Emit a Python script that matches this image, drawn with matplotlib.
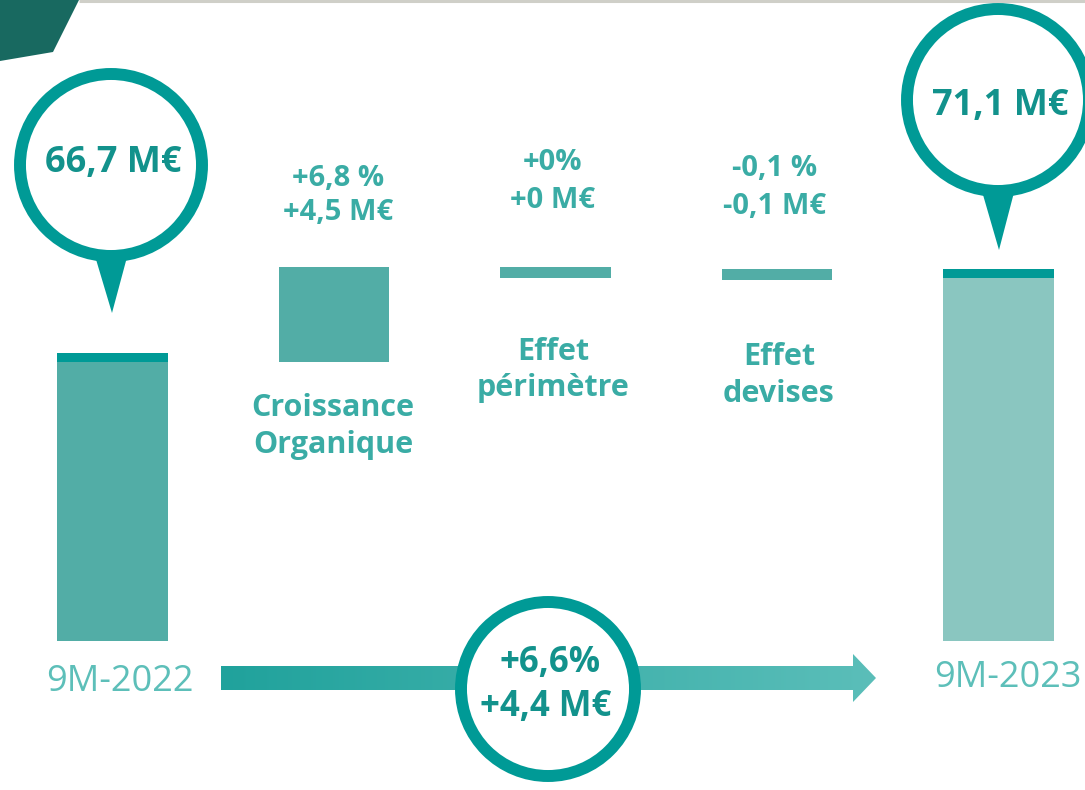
import numpy as np
import matplotlib.pyplot as plt
from matplotlib.patches import Circle, Polygon
from matplotlib.colors import LinearSegmentedColormap

# Data
periods = ["9M-2022", "9M-2023"]
start_value = 66.7
end_value = 71.1
effect_names = ["Croissance\nOrganique", "Effet\npérimètre", "Effet\ndevises"]
effect_values = [4.5, 0.0, -0.1]
effect_pct = ["+6,8 %", "+0%", "-0,1 %"]
effect_meur = ["+4,5 M€", "+0 M€", "-0,1 M€"]
total_pct = "+6,6%"
total_meur = "+4,4 M€"

plt.rcParams['font.family'] = ['Open Sans', 'DejaVu Sans']

bar_col = "#52ADA6"
end_col = "#8AC6C0"
ring_col = "#009A96"
txt_dark = "#12928C"
txt_mid = "#3AACA5"
txt_light = "#5DBFB9"

fig = plt.figure(figsize=(10.85, 7.9), dpi=100)

# data axes (truncated value axis)
ax = fig.add_axes([0, 0, 1, 1])
ax.set_xlim(-0.508, 4.39)
ax.set_ylim(43.82, 85.18)
ax.axis('off')

floor = 51.6
cap = 0.47
min_h = 0.6
w = 0.5

def fmt(v):
    return f"{v:.1f}".replace('.', ',') + " M€"

# start bar
ax.bar(0, start_value - floor, bottom=floor, width=w, color=bar_col)
ax.bar(0, cap, bottom=start_value - cap, width=w, color=ring_col)

# effect bars (waterfall)
running = start_value
for i, d in enumerate(effect_values):
    new = running + d
    lo, hi = min(running, new), max(running, new)
    if hi - lo < min_h:
        hi, lo = new, new - min_h
    else:
        lo = lo - cap
    ax.bar(i + 1, hi - lo, bottom=lo, width=w, color=bar_col)
    running = new

# end bar
ax.bar(4, end_value - floor, bottom=floor, width=w, color=end_col)
ax.bar(4, cap, bottom=end_value - cap, width=w, color=ring_col)

# overlay in pixel units for decorations
dx = fig.add_axes([0, 0, 1, 1])
dx.axis('off')
dx.patch.set_alpha(0)

# top decoration
dx.add_patch(Polygon([(0, 0), (79, 0), (53, 52), (0, 61)], closed=True,
                     color="#186960", lw=0))
dx.plot([79, 1085], [1, 1], color="#CFCFC8", lw=2.2, solid_capstyle='butt')

# bubbles
def bubble(cx, cy, r, tip_y, text, ty):
    dx.add_patch(Polygon([(cx - 19, cy + r - 10), (cx + 19, cy + r - 10), (cx + 1, tip_y)],
                         closed=True, color=ring_col, lw=0))
    dx.add_patch(Circle((cx, cy), r, facecolor='white', edgecolor=ring_col, lw=8.6))
    dx.text(cx + 2, ty, text, ha='center', va='center', fontsize=26,
            fontweight='bold', color=txt_dark)

bubble(111, 165, 91, 313, fmt(start_value), 163)
bubble(998, 100, 91, 250, fmt(end_value), 106)

# period labels
dx.text(120, 682, periods[0], ha='center', va='center', fontsize=26,
        color=txt_light)
dx.text(1008, 678, periods[1], ha='center', va='center', fontsize=26,
        color=txt_light)

# effect labels
val_pos = [(338, 178, 213), (553, 163, 200), (775, 168, 207)]
name_pos = [(333, 408, 445), (553, 352, 388), (779, 357, 394)]
for i in range(3):
    x0, y1, y2 = val_pos[i]
    dx.text(x0, y1, effect_pct[i], ha='center', va='center', fontsize=21,
            fontweight='bold', color=txt_mid)
    dx.text(x0, y2, effect_meur[i], ha='center', va='center', fontsize=21,
            fontweight='bold', color=txt_mid)
    x0, y1, y2 = name_pos[i]
    l1, l2 = effect_names[i].split("\n")
    dx.text(x0, y1, l1, ha='center', va='center', fontsize=22,
            fontweight='bold', color=txt_mid)
    dx.text(x0, y2, l2, ha='center', va='center', fontsize=22,
            fontweight='bold', color=txt_mid)

# gradient arrow
arrow = Polygon([(221, 666), (853, 666), (853, 654), (876, 678), (853, 702),
                 (853, 690), (221, 690)], closed=True, facecolor='none', lw=0)
dx.add_patch(arrow)
grad = np.linspace(0, 1, 256).reshape(1, -1)
cmap = LinearSegmentedColormap.from_list("g", ["#20A29C", "#5BBEB9"])
im = dx.imshow(grad, extent=(221, 876, 702, 654), cmap=cmap, aspect='auto', zorder=1)
im.set_clip_path(arrow)
dx.set_xlim(0, 1085)
dx.set_ylim(790, 0)

dx.add_patch(Circle((548, 689), 87, facecolor='white', edgecolor=ring_col,
                    lw=8.6, zorder=3))
dx.text(550, 663, total_pct, ha='center', va='center', fontsize=25,
        fontweight='bold', color=txt_dark, zorder=4)
dx.text(546, 707, total_meur, ha='center', va='center', fontsize=25,
        fontweight='bold', color=txt_dark, zorder=4)

fig.savefig("out.png", dpi=100)
